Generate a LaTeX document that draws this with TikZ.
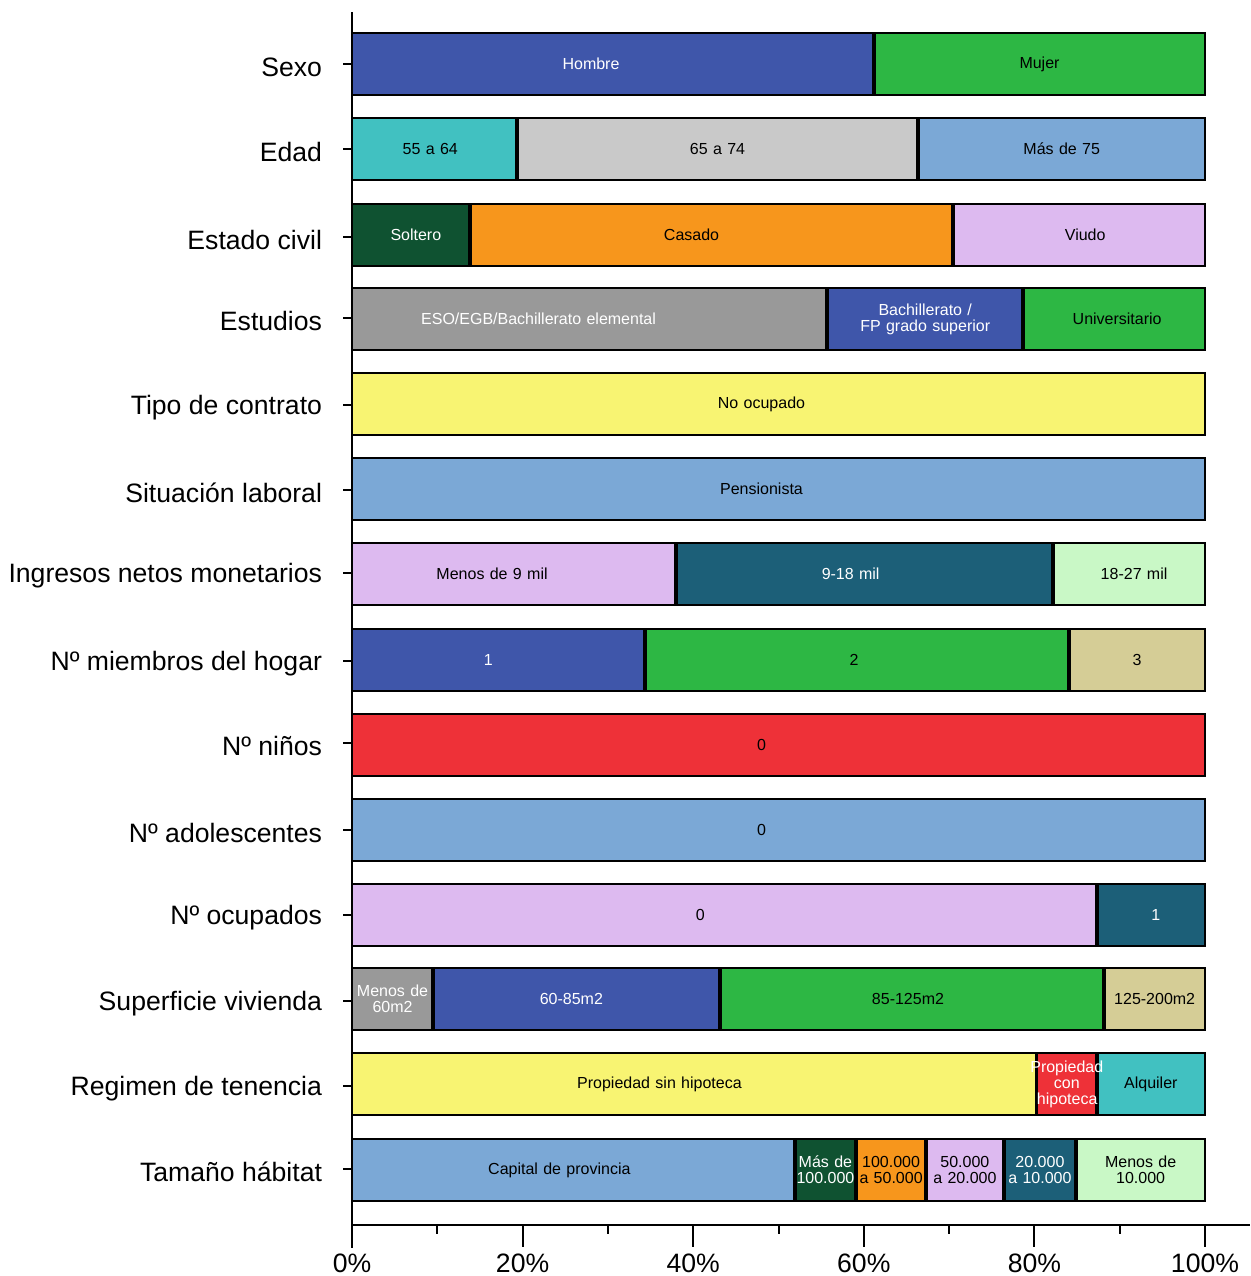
\documentclass[tikz,border=0pt]{standalone}
\usepackage{fontspec}
\setmainfont{Liberation Sans}
\usepackage{tikz}
\usetikzlibrary{positioning}
\definecolor{cblue}{HTML}{3F56AA}
\definecolor{cgreen}{HTML}{2DB744}
\definecolor{cteal}{HTML}{41C1C1}
\definecolor{cgrayl}{HTML}{C9C9C9}
\definecolor{clblue}{HTML}{7BA8D6}
\definecolor{cdgreen}{HTML}{0F5231}
\definecolor{corange}{HTML}{F7961C}
\definecolor{clilac}{HTML}{DDBAF0}
\definecolor{cgray}{HTML}{999999}
\definecolor{cyellow}{HTML}{F8F472}
\definecolor{cdteal}{HTML}{1C5F78}
\definecolor{cmint}{HTML}{C9F8C6}
\definecolor{ctan}{HTML}{D5CD96}
\definecolor{cred}{HTML}{EE3138}

\begin{document}
\begin{tikzpicture}[x=0.5pt, y=-0.5pt, line width=1pt,
    seg/.style={draw=black, line width=1.2pt, minimum height=31pt, inner sep=0pt,
      outer sep=0pt, align=center, font=\fontsize{8}{8}\selectfont},
    pct/.style={text width=#1*4.265pt},
    tsh/.style={execute at begin node={\hspace*{#1pt}}},
    wtxt/.style={text=white},
    lbl/.style={anchor=east, inner sep=0pt, yshift=-1.5pt, font=\fontsize{13.3}{16}\selectfont},
    axlbl/.style={inner sep=0pt, font=\fontsize{13.3}{16}\selectfont},
    sepline/.style={line width=2pt}]
  \useasboundingbox (0,0) rectangle (1250,1276);

  % row labels and ticks
  \foreach \y/\t [count=\i] in {64/Sexo, 149/Edad, 237/Estado civil, 318/Estudios,
      405/Tipo de contrato, 490/Situación laboral, 573/Ingresos netos monetarios,
      661/Nº miembros del hogar, 743/Nº niños, 830/Nº adolescentes, 915/Nº ocupados,
      1001/Superficie vivienda, 1086/Regimen de tenencia, 1169/Tamaño hábitat} {
    \node[lbl] (lab\i) at (323,\y) {\t};
    \draw (343,\y) -- (352,\y);
  }

  % bars
  \node[seg, fill=cblue, wtxt, pct=61.2, tsh=-22, anchor=west] (sexo1) at (352,64) {Hombre};
  \node[seg, fill=cgreen, pct=38.8, right=0pt of sexo1] (sexo2) {Mujer};

  \node[seg, fill=cteal, pct=19.3, tsh=-4, anchor=west] (edad1) at (352,149) {55 a 64};
  \node[seg, fill=cgrayl, pct=47.1, right=0pt of edad1] (edad2) {65 a 74};
  \node[seg, fill=clblue, pct=33.6, right=0pt of edad2] (edad3) {Más de 75};

  \node[seg, fill=cdgreen, wtxt, pct=13.8, tsh=5, anchor=west] (civil1) at (352,235) {Soltero};
  \node[seg, fill=corange, pct=56.7, tsh=-20, right=0pt of civil1] (civil2) {Casado};
  \node[seg, fill=clilac, pct=29.5, tsh=6, right=0pt of civil2] (civil3) {Viudo};

  \node[seg, fill=cgray, wtxt, pct=55.7, tsh=-51, anchor=west] (estud1) at (352,319) {ESO/EGB/Bachillerato elemental};
  \node[seg, fill=cblue, wtxt, pct=23.0, right=0pt of estud1] (estud2) {Bachillerato /\\FP grado superior};
  \node[seg, fill=cgreen, pct=21.3, tsh=3, right=0pt of estud2] (estud3) {Universitario};

  \node[seg, fill=cyellow, pct=100, tsh=-17, anchor=west] (contr1) at (352,404) {No ocupado};

  \node[seg, fill=clblue, pct=100, tsh=-17, anchor=west] (lab1) at (352,489) {Pensionista};

  \node[seg, fill=clilac, pct=38.0, tsh=-22, anchor=west] (ingr1) at (352,574) {Menos de 9 mil};
  \node[seg, fill=cdteal, wtxt, pct=44.2, tsh=-14, right=0pt of ingr1] (ingr2) {9-18 mil};
  \node[seg, fill=cmint, pct=17.8, tsh=5, right=0pt of ingr2] (ingr3) {18-27 mil};

  \node[seg, fill=cblue, wtxt, pct=34.3, tsh=-10, anchor=west] (miemb1) at (352,660) {1};
  \node[seg, fill=cgreen, pct=49.8, tsh=-3, right=0pt of miemb1] (miemb2) {2};
  \node[seg, fill=ctan, pct=15.9, right=0pt of miemb2] (miemb3) {3};

  \node[seg, fill=cred, pct=100, tsh=-17, anchor=west] (ninos1) at (352,745) {0};

  \node[seg, fill=clblue, pct=100, tsh=-17, anchor=west] (adol1) at (352,830) {0};

  \node[seg, fill=clilac, pct=87.3, tsh=-24, anchor=west] (ocup1) at (352,915) {0};
  \node[seg, fill=cdteal, wtxt, pct=12.7, tsh=5, right=0pt of ocup1] (ocup2) {1};

  \node[seg, fill=cgray, wtxt, pct=9.5, anchor=west] (sup1) at (352,999) {Menos de\\60m2};
  \node[seg, fill=cblue, wtxt, pct=33.6, tsh=-5, right=0pt of sup1] (sup2) {60-85m2};
  \node[seg, fill=cgreen, pct=45.1, tsh=-4, right=0pt of sup2] (sup3) {85-125m2};
  \node[seg, fill=ctan, pct=11.8, right=0pt of sup3] (sup4) {125-200m2};

  \node[seg, fill=cyellow, pct=80.3, tsh=-35, anchor=west] (ten1) at (352,1084) {Propiedad sin hipoteca};
  \node[seg, fill=cteal, pct=12.7, anchor=east] (ten3) at (1205,1084) {Alquiler};

  \node[seg, fill=clblue, pct=51.9, tsh=-14, anchor=west] (hab1) at (352,1170) {Capital de provincia};
  \node[seg, fill=cdgreen, wtxt, pct=7.2, right=0pt of hab1] (hab2) {\makebox[\linewidth]{Más de}\\\makebox[\linewidth]{100.000}};
  \node[seg, fill=corange, pct=8.2, right=0pt of hab2] (hab3) {100.000\\a 50.000};
  \node[seg, fill=clilac, pct=9.1, right=0pt of hab3] (hab4) {50.000\\a 20.000};
  \node[seg, fill=cdteal, wtxt, pct=8.5, right=0pt of hab4] (hab5) {20.000\\a 10.000};
  \node[seg, fill=cmint, pct=15.1, right=0pt of hab5] (hab6) {Menos de\\10.000};

  % breaks between segments
  \foreach \n in {sexo1, edad1, edad2, civil1, civil2, estud1, estud2, ingr1, ingr2,
      miemb1, miemb2, ocup1, sup1, sup2, sup3, ten1, hab1, hab2, hab3, hab4, hab5}
    \draw[sepline] (\n.north east) -- (\n.south east);
  \draw[sepline] (ten3.north west) -- (ten3.south west);

  % narrow cell last, its text runs over its neighbours
  \node[seg, fill=cred, wtxt, pct=7.0, right=0pt of ten1] (ten2) {\makebox[\linewidth]{Propiedad}\\con\\hipoteca};

  % axes
  \draw (352,12) -- (352,1248);
  \draw (352,1225) -- (1250,1225);
  \foreach \p in {20,40,...,100}
    \draw (352+8.53*\p,1225) -- ++(0,22);
  \foreach \p in {10,30,...,90}
    \draw (352+8.53*\p,1225) -- ++(0,9);
  \foreach \p in {0,20,...,100}
    \node[axlbl] (ax\p) at (352+8.53*\p,1263) {\p\%};
\end{tikzpicture}
\end{document}
